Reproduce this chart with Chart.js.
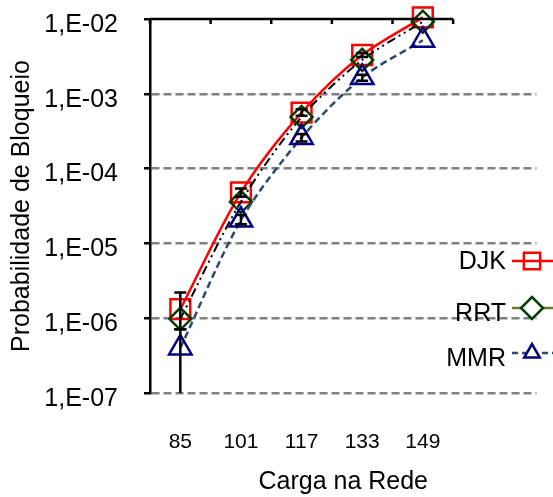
<!DOCTYPE html>
<html><head><meta charset="utf-8">
<script src="https://cdn.jsdelivr.net/npm/chart.js@4.4.1/dist/chart.umd.min.js"></script>
<style>html,body{margin:0;padding:0;background:#fff}</style>
</head><body>
<canvas id="c" width="553" height="497"></canvas>
<script>
// ---- data ----
const categories = ['85', '101', '117', '133', '149'];
const djk = [1.32e-6, 4.8e-5, 5.6e-4, 3.3e-3, 1.05e-2];
const rrt = [9.8e-7, 3.6e-5, 4.9e-4, 2.84e-3, 9.2e-3];
const mmr = [4.0e-7, 2.05e-5, 2.6e-4, 1.65e-3, 5.2e-3];
// error bar bounds
const djkLow  = [7.1e-7, 4.2e-5, 5.1e-4, 3.1e-3, null];
const djkHigh = [2.2e-6, 5.4e-5, 6.2e-4, 3.5e-3, null];
const mmrLow  = [1e-9, 1.8e-5, 2.3e-4, 1.5e-3, null];
const mmrHigh = [7.1e-7, 2.4e-5, 2.9e-4, 1.8e-3, null];
const yTicks = [1e-7, 1e-6, 1e-5, 1e-4, 1e-3, 1e-2];
const yTickLabels = ['1,E-07', '1,E-06', '1,E-05', '1,E-04', '1,E-03', '1,E-02'];
const seriesNames = ['DJK', 'RRT', 'MMR'];

const FONT = "'Liberation Sans', Arial, sans-serif";
const toPts = arr => arr.map((v, i) => ({x: i, y: v}));

function markerPath(ctx, style, x, y, r) {
  ctx.beginPath();
  if (style === 'rect') {
    const s = r * Math.SQRT1_2;
    ctx.rect(x - s, y - s, 2 * s, 2 * s);
  } else if (style === 'rectRot') {
    ctx.moveTo(x - r, y); ctx.lineTo(x, y - r); ctx.lineTo(x + r, y); ctx.lineTo(x, y + r); ctx.closePath();
  } else {
    ctx.moveTo(x, y - r);
    ctx.lineTo(x + r * 0.866, y + r * 0.5);
    ctx.lineTo(x - r * 0.866, y + r * 0.5);
    ctx.closePath();
  }
}

const errorBars = {
  id: 'errorBars',
  afterDatasetsDraw(chart) {
    const {ctx, chartArea: a} = chart;
    const xs = chart.scales.x, ys = chart.scales.y;
    ctx.save();
    ctx.beginPath(); ctx.rect(a.left, a.top - 10, a.right - a.left, a.bottom - a.top + 10); ctx.clip();
    ctx.strokeStyle = '#000'; ctx.lineWidth = 2.5;
    const sets = [[djkLow, djkHigh], [mmrLow, mmrHigh]];
    sets.forEach(([lo, hi]) => {
      lo.forEach((l, i) => {
        if (l == null) return;
        const x = xs.getPixelForValue(i);
        const y1 = ys.getPixelForValue(l), y2 = ys.getPixelForValue(hi[i]);
        ctx.beginPath();
        ctx.moveTo(x, y1); ctx.lineTo(x, y2);
        ctx.moveTo(x - 6, y1); ctx.lineTo(x + 6, y1);
        ctx.moveTo(x - 6, y2); ctx.lineTo(x + 6, y2);
        ctx.stroke();
      });
    });
    ctx.restore();
  }
};

const topAxis = {
  id: 'topAxis',
  afterDraw(chart) {
    const {ctx, chartArea: a} = chart;
    const xs = chart.scales.x;
    const x0 = xs.getPixelForValue(-0.5), x1 = xs.getPixelForValue(categories.length - 0.5);
    ctx.save();
    ctx.strokeStyle = '#000'; ctx.lineWidth = 2.5;
    ctx.beginPath();
    ctx.moveTo(x0, a.top); ctx.lineTo(x1, a.top);
    for (let i = 0; i <= categories.length; i++) {
      const x = xs.getPixelForValue(i - 0.5);
      ctx.moveTo(x, a.top); ctx.lineTo(x, a.top + 5);
    }
    ctx.stroke();
    ctx.restore();
  }
};

const customLegend = {
  id: 'customLegend',
  afterDraw(chart) {
    const {ctx} = chart;
    const items = [
      {name: seriesNames[0], y: 261, line: '#FF0000', dash: [], mk: 'rect', mc: '#FF0000', r: 11.5},
      {name: seriesNames[1], y: 308, line: '#6B7B35', dash: [], mk: 'rectRot', mc: '#003F00', r: 11},
      {name: seriesNames[2], y: 353, line: '#2E4A6E', dash: [6, 4], mk: 'triangle', mc: '#000080', r: 9}
    ];
    ctx.save();
    ctx.font = '25px ' + FONT;
    ctx.textAlign = 'right';
    ctx.textBaseline = 'middle';
    items.forEach((it, k) => {
      ctx.fillStyle = '#000';
      ctx.fillText(it.name, 506, it.y + (k === 0 ? 1 : 6));
      ctx.strokeStyle = it.line; ctx.lineWidth = 2.5; ctx.setLineDash(it.dash);
      ctx.beginPath(); ctx.moveTo(512, it.y); ctx.lineTo(553, it.y); ctx.stroke();
      ctx.setLineDash([]);
      ctx.strokeStyle = it.mc; ctx.lineWidth = 2.5;
      markerPath(ctx, it.mk, 532, it.y, it.r);
      ctx.fillStyle = '#fff';
      if (it.mk !== 'rect') ctx.fill();
      ctx.stroke();
    });
    ctx.restore();
  }
};

new Chart(document.getElementById('c'), {
  type: 'line',
  data: {
    datasets: [
      {label: seriesNames[0], data: toPts(djk), borderColor: '#FF0000', borderWidth: 2.5,
       pointStyle: 'rect', pointRadius: 14, pointBorderColor: '#FF0000', pointBorderWidth: 2.5,
       pointBackgroundColor: 'rgba(0,0,0,0)', tension: 0.3, clip: false, order: 2},
      {label: seriesNames[1], data: toPts(rrt), borderColor: '#000000', borderWidth: 2,
       borderDash: [9, 4, 2, 4, 2, 4],
       pointStyle: 'rectRot', pointRadius: 11, pointBorderColor: '#003F00', pointBorderWidth: 2.5,
       pointBackgroundColor: 'rgba(0,0,0,0)', tension: 0.3, clip: false, order: 1},
      {label: seriesNames[2], data: toPts(mmr), borderColor: '#2E4A6E', borderWidth: 2.5,
       borderDash: [7, 4],
       pointStyle: 'triangle', pointRadius: 13, pointBorderColor: '#000080', pointBorderWidth: 2.5,
       pointBackgroundColor: 'rgba(0,0,0,0)', tension: 0.3, clip: false, order: 0}
    ]
  },
  options: {
    responsive: false,
    animation: false,
    devicePixelRatio: 1,
    layout: {padding: {left: 0, right: 8, top: 19, bottom: 0}},
    plugins: {legend: {display: false}, tooltip: {enabled: false}},
    scales: {
      x: {
        type: 'linear',
        min: -0.5,
        max: 5.875,
        afterBuildTicks: s => { s.ticks = categories.map((c, i) => ({value: i})); },
        afterFit: s => { s.height = 104; s.paddingLeft = 0; s.paddingRight = 0; },
        grid: {display: false, drawTicks: false},
        border: {display: false},
        ticks: {
          padding: 37,
          color: '#000',
          font: {family: FONT, size: 21},
          callback: v => categories[v],
          maxRotation: 0, autoSkip: false
        },
        title: {display: true, text: 'Carga na Rede', color: '#000',
                font: {family: FONT, size: 25}, padding: {top: 0, bottom: 0}}
      },
      y: {
        type: 'logarithmic',
        min: 1e-7,
        max: 1e-2,
        afterBuildTicks: s => { s.ticks = yTicks.map(v => ({value: v})); },
        afterFit: s => { s.width = 150; s.paddingTop = 0; s.paddingBottom = 0; },
        grid: {
          color: c => (c.tick && c.tick.value === 1e-2) ? 'rgba(0,0,0,0)' : '#808080',
          lineWidth: 2.5,
          tickColor: '#000', tickWidth: 2.5, tickLength: 6, tickBorderDash: []
        },
        border: {display: true, color: '#000', width: 2.5, dash: [8, 4]},
        ticks: {
          padding: 26,
          labelOffset: 6,
          color: '#000',
          font: {family: FONT, size: 25},
          callback: v => yTickLabels[yTicks.indexOf(v)],
          autoSkip: false
        },
        title: {display: true, text: 'Probabilidade de Bloqueio', color: '#000',
                font: {family: FONT, size: 25}, padding: {top: 7, bottom: 0}}
      }
    }
  },
  plugins: [errorBars, topAxis, customLegend]
});
</script>
</body></html>
